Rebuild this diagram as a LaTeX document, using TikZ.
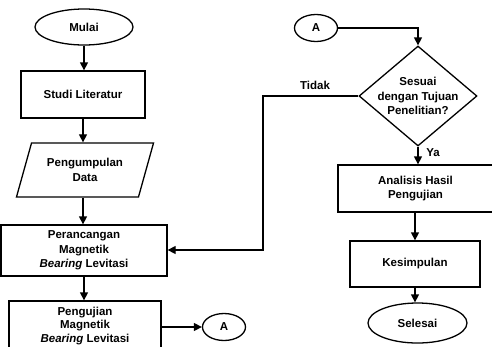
\documentclass[tikz,border=0pt]{standalone}
\usepackage{fontspec}
\setmainfont{Liberation Sans}
\usetikzlibrary{shapes.geometric,arrows.meta}
\begin{document}
\begin{tikzpicture}[x=1pt,y=-1pt,
 every node/.style={font=\bfseries\fontsize{11.5}{14.5}\selectfont, align=center, line width=1.3pt},
 box/.style={draw, rectangle, inner sep=0pt},
 term/.style={draw, ellipse, inner sep=0pt},
 conn/.style={draw, ellipse, inner sep=0pt, minimum width=43, minimum height=27},
 lbl/.style={inner sep=0pt},
 arr/.style={-{Triangle[length=8pt,width=8pt]}, line width=1.3pt}]
\useasboundingbox (0,0) rectangle (492,346);
\clip (0,0) rectangle (492,346);
% left column
\node[term, minimum width=98, minimum height=36] (mulai) at (84,27) {Mulai};
\node[box, minimum width=124, minimum height=47] (studi) at (83,94.5) {Studi Literatur};
\node[draw, trapezium, trapezium left angle=65, trapezium right angle=115,
      trapezium stretches=true, minimum width=138, minimum height=54, inner sep=0pt] (data) at (85,170) {Pengumpulan\\Data};
\node[box, minimum width=166, minimum height=51] (peran) at (84,250.5) {Perancangan\\Magnetik\\\textit{Bearing} Levitasi};
\node[box, minimum width=152, minimum height=50, font=\bfseries\fontsize{11.5}{13.5}\selectfont] (uji) at (85,326) {Pengujian\\Magnetik\\\textit{Bearing} Levitasi};
\node[conn] (a1) at (224,327) {A};
% right column
\node[conn] (a2) at (316,28) {A};
\node[draw, diamond, aspect=1.18, inner sep=-4pt, minimum width=118, minimum height=100] (dec) at (418,96) {Sesuai\\dengan Tujuan\\Penelitian?};
\node[box, minimum width=155, minimum height=47] (ana) at (415.5,188.5) {Analisis Hasil\\Pengujian};
\node[box, minimum width=130, minimum height=46] (kes) at (415,264) {Kesimpulan};
\node[term, minimum width=99, minimum height=40] (sel) at (417.5,323) {Selesai};
\node[lbl] (tidak) at (315,85) {Tidak};
\node[lbl] (ya) at (433,153) {Ya};
\coordinate (t) at (263,250);
\coordinate (ujibot) at (85,360);
% connectors
\draw[arr] (mulai.south) -- (mulai.south |- studi.north);
\draw[arr] (studi.south) -- (studi.south |- data.north);
\draw[arr] (data.south -| studi.south) -- (studi.south |- peran.north);
\draw[arr] (peran.south) -- (peran.south |- uji.north);
\draw[line width=1.3pt] (uji.north west) -- (uji.north west |- ujibot) (uji.north east) -- (uji.north east |- ujibot);
\draw[arr] (uji.east |- a1.west) -- (a1.west);
\draw[arr] (a2.east) -| (dec.north);
\draw[arr] (dec.west) -| (t) -- (peran.east |- t);
\draw[arr] (dec.south) -- (dec.south |- ana.north);
\draw[arr] (ana.south -| kes.north) -- (kes.north);
\draw[arr] (kes.south) -- (kes.south |- sel.north);
\end{tikzpicture}
\end{document}
